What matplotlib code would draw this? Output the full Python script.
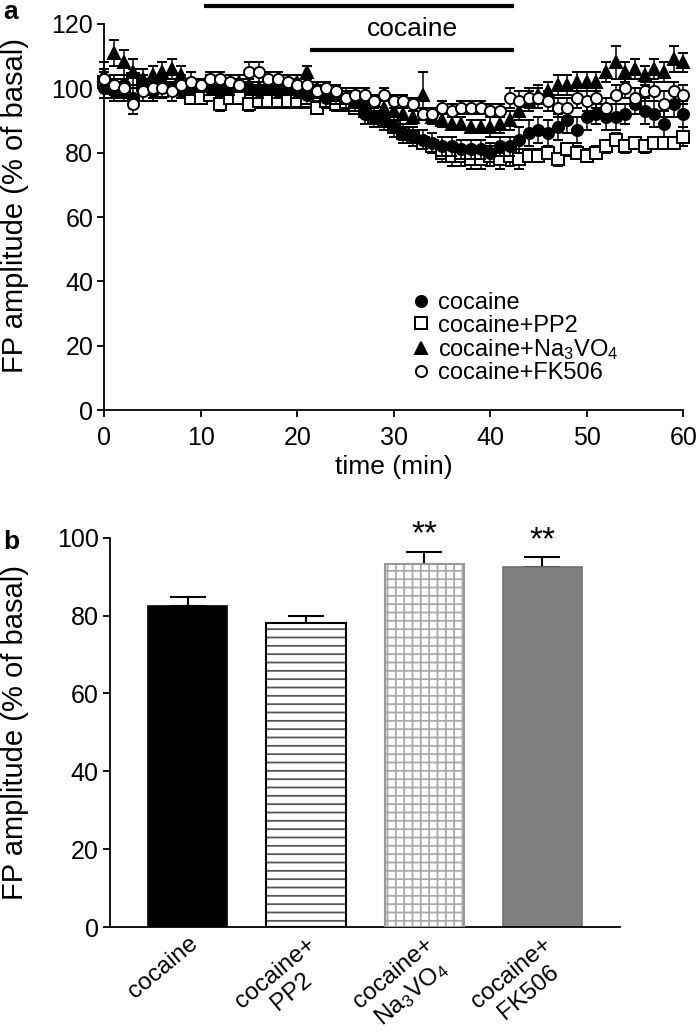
import matplotlib
matplotlib.use("Agg")
import matplotlib.pyplot as plt
from matplotlib.lines import Line2D
import numpy as np

plt.rcParams['font.family'] = ['Liberation Sans', 'DejaVu Sans']
plt.rcParams['mathtext.fontset'] = 'custom'
plt.rcParams['mathtext.rm'] = 'Liberation Sans'
plt.rcParams['mathtext.it'] = 'Liberation Sans'
plt.rcParams['hatch.linewidth'] = 1.3

# ---- panel a: time course (one point per minute) ----
time_min = list(range(61))

cocaine = [100, 99, 101, 97, 100, 99, 101, 100, 99, 100,
           101, 100, 99, 100, 101, 100, 99, 100, 99, 100,
           99, 98, 99, 97, 98, 97, 96, 92, 91, 90,
           88, 86, 85, 84, 83, 82, 82, 81, 81, 81,
           80, 82, 82, 84, 86, 87, 86, 88, 90, 87,
           91, 92, 91, 91, 92, 95, 93, 92, 89, 95, 92]
cocaine_err = [3, 3, 3, 3, 2, 3, 2, 2, 2, 2,
               2, 2, 2, 2, 2, 2, 2, 2, 2, 2,
               2, 3, 2, 3, 3, 3, 3, 3, 3, 3,
               3, 3, 3, 3, 3, 3, 3, 3, 3, 3,
               3, 3, 3, 4, 4, 4, 4, 4, 4, 4,
               4, 3, 4, 4, 3, 3, 4, 4, 4, 4, 4]

pp2 = [102, 100, 99, 103, 101, 100, 99, 101, 100, 97,
       97, 98, 95, 97, 97, 95, 96, 96, 96, 96,
       96, 96, 94, 96, 95, 95, 94, 93, 91, 90,
       88, 86, 85, 83, 82, 80, 79, 79, 78, 78,
       79, 78, 79, 78, 79, 79, 80, 78, 81, 80,
       79, 80, 82, 84, 82, 83, 82, 83, 83, 83, 85]
pp2_err = [3, 3, 3, 3, 3, 2, 2, 2, 2, 2,
           2, 2, 2, 2, 2, 2, 2, 2, 2, 2,
           2, 2, 2, 2, 2, 2, 2, 2, 2, 2,
           2, 2, 2, 2, 2, 3, 3, 3, 3, 3,
           3, 3, 3, 3, 2, 2, 2, 2, 2, 2,
           2, 2, 2, 2, 2, 2, 2, 2, 2, 2, 3]

vo4 = [104, 111, 108, 105, 103, 104, 105, 106, 104, 101,
       101, 102, 100, 101, 102, 101, 100, 100, 101, 100,
       102, 105, 100, 99, 98, 97, 96, 95, 96, 94,
       93, 92, 91, 98, 91, 90, 89, 89, 88, 88,
       88, 89, 90, 93, 96, 98, 99, 101, 101, 102,
       102, 102, 105, 108, 105, 106, 104, 106, 105, 109, 108]
vo4_err = [4, 4, 4, 4, 3, 3, 3, 3, 3, 2,
           2, 2, 2, 2, 2, 2, 2, 2, 2, 2,
           2, 2, 2, 2, 2, 2, 2, 2, 2, 2,
           2, 2, 2, 7, 2, 2, 2, 2, 2, 2,
           3, 3, 3, 3, 3, 3, 3, 3, 3, 3,
           3, 3, 3, 5, 3, 3, 3, 3, 3, 4, 3]

fk506 = [103, 101, 100, 95, 99, 100, 100, 99, 101, 102,
         101, 103, 103, 102, 101, 105, 105, 103, 103, 102,
         101, 101, 99, 100, 99, 97, 98, 98, 96, 98,
         96, 96, 95, 92, 92, 94, 93, 94, 94, 94,
         93, 93, 97, 96, 97, 97, 96, 94, 94, 97,
         96, 97, 94, 98, 100, 97, 99, 99, 95, 99, 98]
fk506_err = [3, 3, 3, 3, 3, 3, 3, 3, 3, 3,
             2, 2, 2, 2, 2, 3, 3, 2, 2, 2,
             2, 2, 2, 2, 2, 2, 2, 2, 2, 2,
             2, 2, 2, 2, 2, 2, 2, 2, 2, 2,
             2, 2, 3, 3, 3, 3, 3, 3, 3, 3,
             3, 3, 3, 3, 3, 3, 3, 3, 4, 3, 3]

# ---- panel b: summary bars ----
groups = ['cocaine', 'cocaine+\nPP2', 'cocaine+\nNa$_3$VO$_4$', 'cocaine+\nFK506']
group_mean = [82.5, 78.0, 93.3, 92.5]
group_sem = [2.2, 2.0, 3.1, 2.5]
signif = ['', '', '**', '**']

fig = plt.figure(figsize=(7, 10.36), dpi=100)
ax1 = fig.add_axes([0.149, 0.604, 0.827, 0.373])
ax2 = fig.add_axes([0.157, 0.105, 0.729, 0.376])

series = [
    (cocaine, cocaine_err, 'o', 'black', 'cocaine'),
    (pp2, pp2_err, 's', 'white', 'cocaine+PP2'),
    (vo4, vo4_err, '^', 'black', 'cocaine+Na$_3$VO$_4$'),
    (fk506, fk506_err, 'o', 'white', 'cocaine+FK506'),
]
order = [1, 0, 2, 3]
for k, idx in enumerate(order):
    vals, err, mk, fc, lab = series[idx]
    ax1.errorbar(time_min, vals, yerr=err, fmt=mk, mfc=fc, mec='black',
                 mew=1.4, ms=8, ecolor='black', elinewidth=1.1, capsize=3.5,
                 capthick=1.1, clip_on=False, zorder=3 + k)

ax1.set_xlim(0, 60)
ax1.set_ylim(0, 120)
ax1.set_xticks(range(0, 61, 10))
ax1.set_yticks(range(0, 121, 20))
ax1.spines['top'].set_visible(False)
ax1.spines['right'].set_visible(False)
for sp in ax1.spines.values():
    sp.set_linewidth(1.3)
ax1.tick_params(labelsize=18, width=1.3, length=5, pad=3)
ax1.tick_params(axis='x', pad=6)
ax1.set_xlabel('time (min)', fontsize=19, labelpad=4)
ax1.set_ylabel('FP amplitude (% of basal)', fontsize=21)
ax1.yaxis.set_label_coords(-0.13, 0.53)

# treatment bars above the trace
ax1.plot([10.5, 42.3], [125.5, 125.5], color='black', lw=3, clip_on=False)
ax1.plot([21.5, 42.3], [112, 112], color='black', lw=3, clip_on=False)
ax1.text(31.9, 118.5, 'cocaine', ha='center', va='center', fontsize=19)

handles = [Line2D([], [], ls='none', marker=s[2], mfc=s[3], mec='black',
                  mew=1.4, ms=8, label=s[4]) for s in series]
ax1.legend(handles=handles, loc='upper left', bbox_to_anchor=(0.518, 0.33),
           frameon=False, fontsize=17, handlelength=0.6, handletextpad=0.45,
           labelspacing=0.02, borderaxespad=0)

fig.text(0.005, 0.988, 'a', fontsize=19, weight='bold', va='center')
fig.text(0.005, 0.477, 'b', fontsize=19, weight='bold', va='center')

# ---- panel b ----
x = np.arange(len(groups))
w = 0.67
ax2.bar(x[0], group_mean[0], w, color='black', edgecolor='black', lw=1.2, zorder=2)
ax2.bar(x[1], group_mean[1], w, color='white', edgecolor='#555555', hatch='--', lw=0, zorder=2)
ax2.bar(x[1], group_mean[1], w, color='none', edgecolor='black', lw=1.5, zorder=3)
ax2.bar(x[2], group_mean[2], w, color='white', edgecolor='#aaaaaa', hatch='++', lw=0, zorder=2)
ax2.bar(x[2], group_mean[2], w, color='none', edgecolor='#999999', lw=1.5, zorder=3)
ax2.bar(x[3], group_mean[3], w, color='#808080', edgecolor='#707070', lw=1.2, zorder=2)

ax2.errorbar(x, group_mean, yerr=[np.zeros(4), group_sem], fmt='none',
             ecolor='black', elinewidth=1.5, capsize=13, capthick=1.5, zorder=1)
for xi, m, e, s in zip(x, group_mean, group_sem, signif):
    if s:
        ax2.text(xi, m + e + 0.3, s, ha='center', va='bottom', fontsize=24)

ax2.set_xlim(-0.66, 3.66)
ax2.set_ylim(0, 100)
ax2.set_yticks(range(0, 101, 20))
ax2.set_xticks(x)
ax2.set_xticklabels(groups, rotation=40, ha='right', va='top',
                    rotation_mode='anchor', multialignment='center')
ax2.spines['top'].set_visible(False)
ax2.spines['right'].set_visible(False)
for sp in ax2.spines.values():
    sp.set_linewidth(1.3)
ax2.tick_params(axis='y', labelsize=18, width=1.3, length=5, pad=3)
ax2.tick_params(axis='x', labelsize=17.5, length=0, pad=4)
ax2.set_ylabel('FP amplitude (% of basal)', fontsize=21)
ax2.yaxis.set_label_coords(-0.159, 0.5)

fig.savefig('out.png', dpi=100)
